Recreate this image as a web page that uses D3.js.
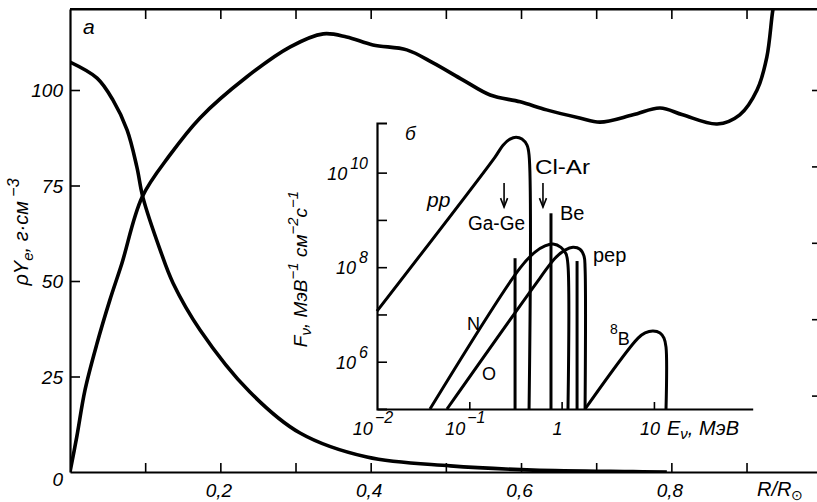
<!DOCTYPE html>
<html><head><meta charset="utf-8">
<script src="https://cdn.jsdelivr.net/npm/d3@7"></script>
<style>
html,body{margin:0;padding:0;background:#fff;}
svg{display:block;}
text{font-family:"Liberation Sans",Arial,sans-serif;fill:#000;}
.it{font-style:italic;}
</style></head>
<body>
<svg id="c" width="817" height="502"></svg>
<script>
// ---------- Panel а: main radial profiles ----------
const mainTicksX = [0.1,0.2,0.3,0.4,0.5,0.6,0.7,0.8,0.9];
const mainLabelsX = [0.2,0.4,0.6,0.8];
const mainTicksY = [25,50,75,100];
const rightTicksY = [20,40,60,80,100];
// decreasing curve (r/R, value)
const curveDownR = [0,0.036,0.057,0.076,0.089,0.097,0.120,0.137,0.173,0.239,0.306,0.395,0.506,0.616,0.749,0.794];
const curveDownV = [107.3,103.1,97.4,89.5,79.8,71.9,58.1,49.5,37.2,21.0,10.2,3.9,1.6,0.5,0.1,0.0];
// increasing curve
const curveUpR = [0,0.009,0.020,0.036,0.053,0.069,0.096,0.133,0.173,0.235,0.293,0.337,0.368,0.403,0.448,0.483,0.523,0.559,0.599,0.634,0.678,0.705,0.749,0.785,0.815,0.861,0.891,0.914,0.927,0.935,0.938];
const curveUpV = [0,9.2,21.5,33.7,45.0,54.6,72.0,83.0,92.7,103.4,111.3,114.7,113.9,111.8,110.5,107.1,102.6,98.7,96.9,94.8,92.7,91.6,93.5,95.3,93.5,91.1,93.5,100.0,108.6,120.9,123.6];

// ---------- Panel б: neutrino spectra (E in MeV, log10 F) ----------
const insetTicksX = [0.1,1,10];
const insetLabelsX = [[0.01,"10","−2"],[0.1,"10","−1"],[1,"1",""],[10,"10",""]];
const insetTicksY = [1e6,1e7,1e8,1e9,1e10];
const insetLabelsY = [[1e6,"6"],[1e8,"8"],[1e10,"10"]];
const ppE  = [0.01,0.190,0.232,0.276,0.321,0.372,0.422,0.444,0.444];
const ppLF = [7.07,10.33,10.58,10.71,10.75,10.71,10.58,10.37,5.0];
const nE   = [0.0375,0.354,0.515,0.661,0.807,0.984,1.117,1.172,1.172];
const nLF  = [5.0,7.98,8.32,8.45,8.49,8.42,8.28,8.04,5.0];
const oE   = [0.0573,0.583,0.849,1.089,1.327,1.580,1.750,1.795,1.795];
const oLF  = [5.0,7.77,8.19,8.36,8.42,8.38,8.23,7.98,5.0];
const b8E  = [1.795,6.73,8.02,9.77,11.64,12.85,13.52,13.52];
const b8LF = [5.0,6.50,6.61,6.65,6.61,6.50,6.31,5.0];
const lineE  = [0.313,0.767,1.47];
const lineLF = [8.19,9.14,8.13];
const arrowE = [0.238,0.628];
const arrowLF = [9.78,9.27];

const svg = d3.select("#c");
const fmt = d3.formatLocale({decimal:",",thousands:"\u00a0",grouping:[3],currency:["",""]}).format(".1f");

// main scales
const x = d3.scaleLinear().domain([0,1]).range([70,821.7]);
const y = d3.scaleLinear().domain([0,100]).range([472,90]);
const yTop = y.invert(9);

svg.append("defs").append("clipPath").attr("id","mclip")
  .append("rect").attr("x",x(0)).attr("y",y(yTop)).attr("width",817-x(0)).attr("height",y(0)-y(yTop));

// frame top line
svg.append("line").attr("x1",x(0)).attr("x2",817).attr("y1",y(yTop)).attr("y2",y(yTop))
  .attr("stroke","#000").attr("stroke-width",2.2);

// bottom axis
const gb = svg.append("g").attr("transform",`translate(0,${y(0)})`)
  .call(d3.axisBottom(x).tickValues(mainTicksX).tickSize(-9).tickSizeOuter(0)
    .tickFormat(d => mainLabelsX.some(v=>Math.abs(v-d)<1e-9) ? fmt(d) : ""));
// top axis
const gt = svg.append("g").attr("transform",`translate(0,${y(yTop)})`)
  .call(d3.axisTop(x).tickValues(mainTicksX).tickSize(-10).tickSizeOuter(0).tickFormat(""));
// left axis
const gl = svg.append("g").attr("transform",`translate(${x(0)},0)`)
  .call(d3.axisLeft(y.copy().domain([0,yTop]).range([472,9])).tickValues(mainTicksY).tickSize(-10).tickSizeOuter(0));
// right ticks
const gr = svg.append("g").attr("transform",`translate(817,0)`)
  .call(d3.axisLeft(y).tickValues(rightTicksY).tickSize(5).tickSizeOuter(0).tickFormat(""));
gr.select(".domain").remove();

[gb,gt,gl,gr].forEach(g=>{
  g.select(".domain").attr("stroke","#000").attr("stroke-width",2.2);
  g.selectAll(".tick line").attr("stroke","#000").attr("stroke-width",1.6);
  g.selectAll("text").attr("class","it").style("font-size","19px").style("font-family","'Liberation Sans',Arial,sans-serif").attr("fill","#000");
});
gb.selectAll("text").attr("y",12).attr("dy","0.71em").attr("x",-2);
gl.selectAll("text").attr("x",-7).attr("dy","0.35em");
// corner zero
svg.append("text").attr("class","it").attr("x",x(0)-7).attr("y",y(0)+14).attr("text-anchor","end")
  .style("font-size","19px").text("0");

// main curves
const mline = d3.line().curve(d3.curveCatmullRom.alpha(0.5));
const mg = svg.append("g").attr("clip-path","url(#mclip)");
mg.append("path").attr("d", mline(curveDownR.map((r,i)=>[x(r),y(curveDownV[i])])))
  .attr("fill","none").attr("stroke","#000").attr("stroke-width",3.6).attr("stroke-linejoin","round");
mg.append("path").attr("d", mline(curveUpR.map((r,i)=>[x(r),y(curveUpV[i])])))
  .attr("fill","none").attr("stroke","#000").attr("stroke-width",3.6).attr("stroke-linejoin","round");

// panel label а
svg.append("text").attr("class","it").attr("x",83).attr("y",34).style("font-size","21px").text("а");

// main y label
const yl = svg.append("text").attr("class","it").attr("transform","translate(28,232) rotate(-90)")
  .attr("text-anchor","middle").style("font-size","20px");
yl.append("tspan").text("ρY");
yl.append("tspan").attr("dy",5).style("font-size","15px").text("e");
yl.append("tspan").attr("dy",-5).text(", г·см");
yl.append("tspan").attr("dy",-9).style("font-size","16px").text(" −3");

// x label R/R⊙
const xl = svg.append("text").attr("class","it").attr("x",757).attr("y",496).style("font-size","20px");
xl.append("tspan").text("R/R");
xl.append("tspan").attr("dy",4).style("font-size","14px").style("font-style","normal").text("⊙");

// ---------- inset ----------
const xi = d3.scaleLog().domain([0.01, Math.pow(10,2.07)]).range([377,752.7]);
const yi = d3.scaleLog().domain([1e5, Math.pow(10,11.05)]).range([409,123]);
const lf = v => Math.pow(10,v);

const gil = svg.append("g").attr("transform",`translate(${xi(0.01)},0)`)
  .call(d3.axisLeft(yi).tickValues(insetTicksY).tickSize(-10).tickSizeOuter(-10).tickFormat(""));
const gib = svg.append("g").attr("transform",`translate(0,${yi(1e5)})`)
  .call(d3.axisBottom(xi).tickValues(insetTicksX).tickSize(-7).tickSizeOuter(0).tickFormat(""));
[gil,gib].forEach(g=>{
  g.select(".domain").attr("stroke","#000").attr("stroke-width",2.2);
  g.selectAll(".tick line").attr("stroke","#000").attr("stroke-width",1.6);
});

// inset tick labels
insetLabelsY.forEach(([v,e])=>{
  const t = svg.append("text").attr("class","it").attr("x",xi(0.01)-9).attr("y",yi(v)+7)
    .attr("text-anchor","end").style("font-size","18px");
  t.append("tspan").text("10");
  t.append("tspan").attr("dx",3).attr("dy",-11).style("font-size","16px").text(e);
});
insetLabelsX.forEach(([v,b,e])=>{
  const t = svg.append("text").attr("class","it").attr("x",xi(v)-4).attr("y",435)
    .attr("text-anchor","middle").style("font-size","18px");
  t.append("tspan").text(b);
  if(e){ t.append("tspan").attr("dx",2).attr("dy",-12).style("font-size","16px").text(e); }
});
const el = svg.append("text").attr("class","it").attr("x",667).attr("y",435).style("font-size","20px");
el.append("tspan").text("E");
el.append("tspan").attr("dy",4).style("font-size","15px").text("ν");
el.append("tspan").attr("dy",-4).text(", МэВ");

// inset y label
const il = svg.append("text").attr("class","it").attr("transform","translate(307,269) rotate(-90)")
  .attr("text-anchor","middle").style("font-size","19px");
il.append("tspan").text("F");
il.append("tspan").attr("dy",4).style("font-size","15px").text("ν");
il.append("tspan").attr("dy",-4).text(", МэВ");
il.append("tspan").attr("dy",-9).style("font-size","15px").text("−1");
il.append("tspan").attr("dy",9).text(" см");
il.append("tspan").attr("dy",-9).style("font-size","15px").text("−2");
il.append("tspan").attr("dy",9).text("с");
il.append("tspan").attr("dy",-9).style("font-size","15px").text("−1");

// spectra
const iline = d3.line().curve(d3.curveCatmullRom.alpha(0.5));
const spec = [[ppE,ppLF],[nE,nLF],[oE,oLF],[b8E,b8LF]];
const ig = svg.append("g").attr("fill","none").attr("stroke","#000").attr("stroke-width",3).attr("stroke-linejoin","round");
spec.forEach(([E,L])=>{
  ig.append("path").attr("d", iline(E.map((e,i)=>[xi(e), yi(lf(L[i]))])));
});
lineE.forEach((e,i)=>{
  ig.append("line").attr("x1",xi(e)).attr("x2",xi(e)).attr("y1",yi(1e5)).attr("y2",yi(lf(lineLF[i])));
});
// threshold arrows
const ag = svg.append("g").attr("stroke","#000").attr("stroke-width",1.6).attr("fill","none");
arrowE.forEach((e,i)=>{
  const xa = xi(e), y1 = yi(lf(arrowLF[0])), y2 = yi(lf(arrowLF[1]));
  ag.append("line").attr("x1",xa).attr("x2",xa).attr("y1",y1).attr("y2",y2);
  ag.append("path").attr("d",`M${xa-3.5},${y2-9}L${xa},${y2}L${xa+3.5},${y2-9}`);
});

// inset labels
svg.append("text").attr("class","it").attr("x",405).attr("y",140).style("font-size","19px").text("б");
svg.append("text").attr("class","it").attr("x",427).attr("y",207).style("font-size","21px").text("pp");
svg.append("text").attr("x",468).attr("y",230).style("font-size","20px").attr("textLength",57).attr("lengthAdjust","spacingAndGlyphs").text("Ga-Ge");
svg.append("text").attr("x",535).attr("y",174).style("font-size","20px").attr("textLength",55).attr("lengthAdjust","spacingAndGlyphs").text("Cl-Ar");
svg.append("text").attr("x",560).attr("y",220).style("font-size","20px").text("Be");
svg.append("text").attr("x",593).attr("y",262).style("font-size","20px").text("pep");
svg.append("text").attr("x",467).attr("y",330).style("font-size","18px").text("N");
svg.append("text").attr("x",482).attr("y",380).style("font-size","18px").text("O");
const b8 = svg.append("text").attr("x",610).attr("y",345).style("font-size","18px");
b8.append("tspan").attr("dy",-11).style("font-size","14px").text("8");
b8.append("tspan").attr("dy",11).text("B");
</script>
</body></html>
